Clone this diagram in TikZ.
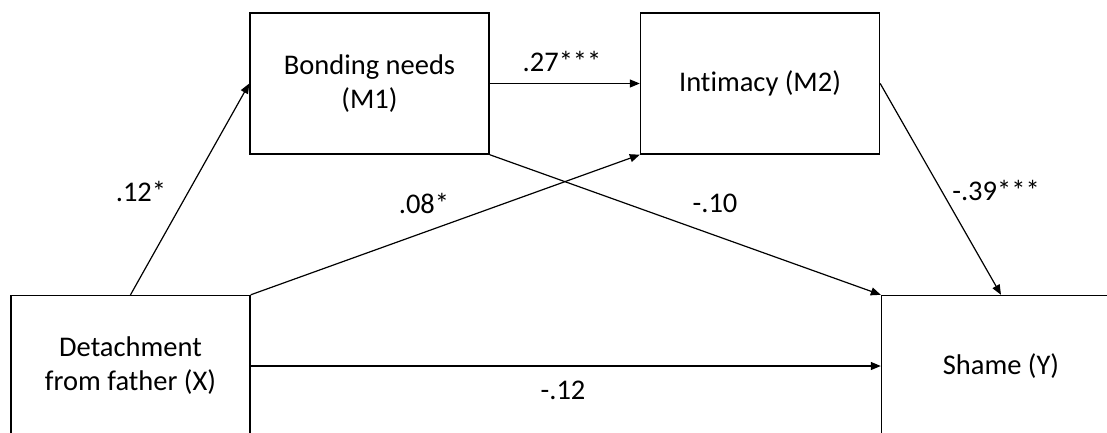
\documentclass[tikz,border=0pt]{standalone}
\usepackage{fontspec}
\setmainfont{Carlito}[Ligatures=NoCommon]
\usetikzlibrary{arrows.meta}

\tikzset{
  var/.style={draw, line width=1.4pt, minimum width=239pt, minimum height=141pt,
    align=center, inner sep=0pt},
  effect/.style={line width=1.2pt, -{Triangle[length=10pt,width=8pt]}},
  coef/.style={inner sep=0pt}
}

\begin{document}
\begin{tikzpicture}[x=1pt,y=-1pt,font=\fontsize{28.5}{34}\selectfont]
\useasboundingbox (0,0) rectangle (1107,432);
\clip (0,0) rectangle (1107,432);

% variables
\node[var] (m1) at (369.5,83.5) {Bonding needs\\(M1)};
\node[var] (m2) at (760,83.5) {Intimacy (M2)};
\node[var] (x) at (130.5,366) {Detachment\\from father (X)};
\node[var] (y) at (1001,366) {Shame (Y)};

% paths
\draw[effect] (x.north) -- (m1.west);
\draw[effect] (m1.east) -- (m2.west);
\draw[effect] (x.north east) -- (m2.south west);
\draw[effect] (m1.south east) -- (y.north west);
\draw[effect] (m2.east) -- (y.north);
\draw[effect] (x.east) -- (y.west);

% coefficients
\node[coef] (a1) at (141,191) {.12*};
\node[coef] (d21) at (562,61) {.27***};
\node[coef] (a2) at (424,203) {.08*};
\node[coef] (b1) at (715,203) {-.10};
\node[coef] (b2) at (996,190) {-.39***};
\node[coef] (c) at (563,390) {-.12};

\end{tikzpicture}
\end{document}
